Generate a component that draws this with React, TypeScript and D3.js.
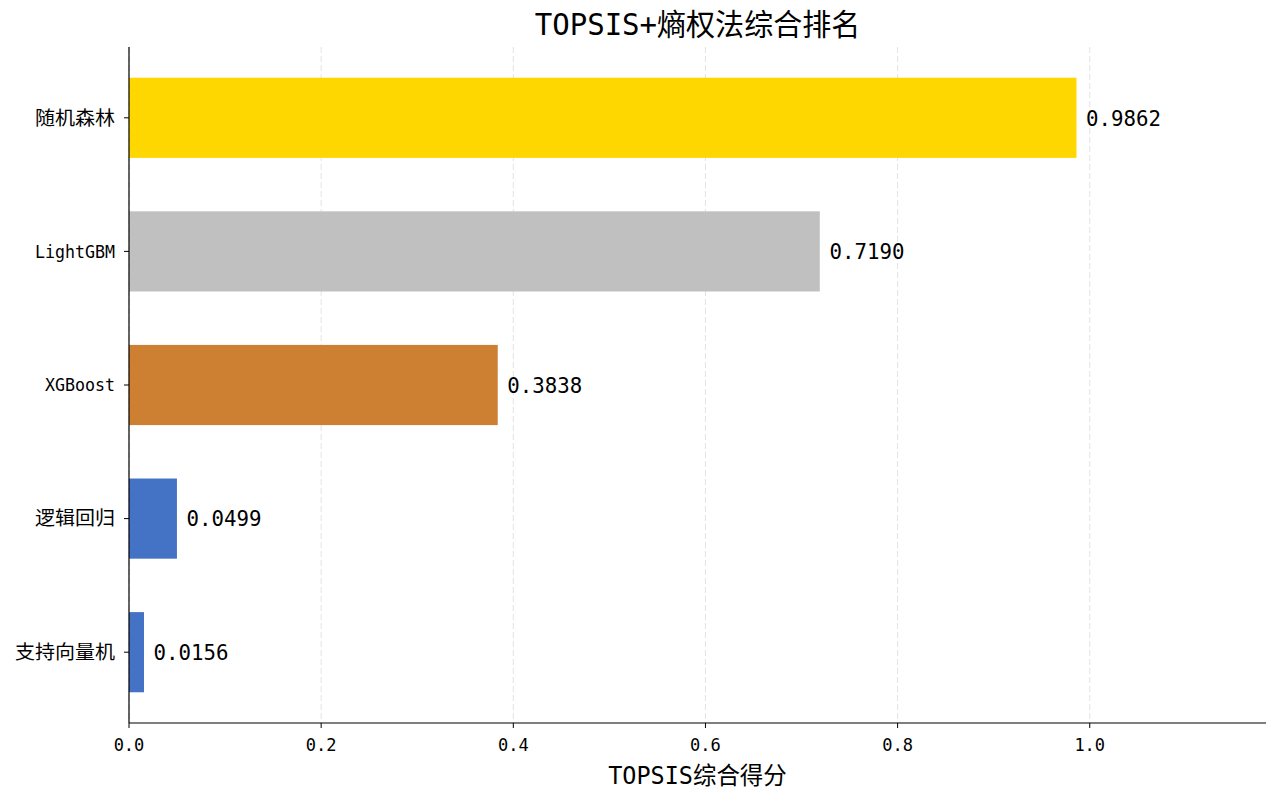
import React, { useRef, useEffect } from 'react';
import * as d3 from 'd3';

const models = ['随机森林', 'LightGBM', 'XGBoost', '逻辑回归', '支持向量机'];
const scores = [0.9862, 0.719, 0.3838, 0.0499, 0.0156];
const barColors = ['#FFD700', '#C0C0C0', '#CD7F32', '#4472C4', '#4472C4'];
const xTicks = [0, 0.2, 0.4, 0.6, 0.8, 1.0];

const W = 1280;
const H = 797;
const FONT = '"DejaVu Sans Mono", "Noto Sans CJK SC", sans-serif';

// SimHei-like width: latin half-width, CJK full-width
const isCJK = (c: string) => c.charCodeAt(0) >= 0x2e80;
const textWidth = (s: string, size: number) =>
  Array.from(s).reduce((w, c) => w + (isCJK(c) ? 1 : 0.5) * size, 0);

const App: React.FC = () => {
  const svgRef = useRef<SVGSVGElement>(null);

  useEffect(() => {
    if (!svgRef.current) return;
    const svg = d3.select(svgRef.current);
    svg.selectAll('*').remove();

    const left = 129, right = 1266, top = 47, bottom = 723;

    const x = d3.scaleLinear()
      .domain([0, d3.max(scores)! * 1.2])
      .range([left, right]);

    // bar index positions like matplotlib barh (0 at top after invert)
    const barH = 0.6;
    const pad = (models.length - 1 + barH) * 0.05;
    const y = d3.scaleLinear()
      .domain([-barH / 2 - pad, models.length - 1 + barH / 2 + pad])
      .range([top, bottom]);

    const label = (
      g: d3.Selection<any, any, any, any>,
      s: string, tx: number, ty: number, size: number, anchor = 'start'
    ) => {
      const hasCJK = Array.from(s).some(isCJK);
      return g.append('text')
        .attr('x', tx)
        .attr('y', ty)
        .attr('dy', '0.36em')
        .attr('text-anchor', anchor)
        .attr('font-family', FONT)
        .attr('font-size', size * (hasCJK ? 0.95 : 0.87))
        .attr('textLength', textWidth(s, size))
        .attr('lengthAdjust', 'spacingAndGlyphs')
        .attr('fill', '#000')
        .text(s);
    };

    svg.append('rect').attr('width', W).attr('height', H).attr('fill', '#fff');

    // grid
    svg.append('g')
      .selectAll('line')
      .data(xTicks)
      .join('line')
      .attr('x1', d => x(d)).attr('x2', d => x(d))
      .attr('y1', top).attr('y2', bottom)
      .attr('stroke', '#b0b0b0')
      .attr('stroke-opacity', 0.35)
      .attr('stroke-dasharray', '6,3')
      .attr('stroke-width', 1);

    // bars
    svg.append('g')
      .selectAll('rect')
      .data(scores)
      .join('rect')
      .attr('x', x(0))
      .attr('y', (_, i) => y(i - barH / 2))
      .attr('width', d => x(d) - x(0))
      .attr('height', y(barH) - y(0))
      .attr('fill', (_, i) => barColors[i]);

    // value labels
    const vl = svg.append('g');
    scores.forEach((d, i) => label(vl, d.toFixed(4), x(d + 0.01), y(i), 25));

    // spines
    svg.append('line')
      .attr('x1', left).attr('x2', left).attr('y1', top).attr('y2', bottom)
      .attr('stroke', '#000').attr('stroke-width', 1.2);
    svg.append('line')
      .attr('x1', left).attr('x2', right).attr('y1', bottom).attr('y2', bottom)
      .attr('stroke', '#000').attr('stroke-width', 1.2);

    // x ticks
    const xt = svg.append('g');
    xt.selectAll('line')
      .data(xTicks)
      .join('line')
      .attr('x1', d => x(d)).attr('x2', d => x(d))
      .attr('y1', bottom).attr('y2', bottom + 5)
      .attr('stroke', '#000').attr('stroke-width', 1);
    xTicks.forEach(d => label(xt, d.toFixed(1), x(d), bottom + 22, 20.5, 'middle'));

    // y ticks
    const yt = svg.append('g');
    yt.selectAll('line')
      .data(models)
      .join('line')
      .attr('x1', left - 5).attr('x2', left)
      .attr('y1', (_, i) => y(i)).attr('y2', (_, i) => y(i))
      .attr('stroke', '#000').attr('stroke-width', 1);
    models.forEach((m, i) => label(yt, m, left - 14, y(i), 20, 'end'));

    // axis label & title
    label(svg, 'TOPSIS综合得分', (left + right) / 2, 775, 25.5, 'middle');
    label(svg, 'TOPSIS+熵权法综合排名', (left + right) / 2, 24, 31, 'middle');
  }, []);

  return (
    <div style={{ position: 'absolute', top: 0, left: 0, width: W, height: H }}>
      <svg ref={svgRef} width={W} height={H} style={{ display: 'block' }} />
    </div>
  );
};

export default App;
